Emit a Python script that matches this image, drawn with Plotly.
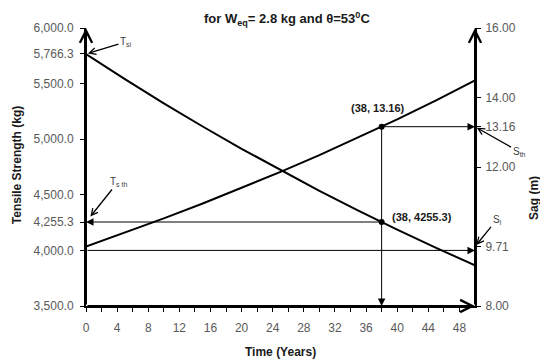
import plotly.graph_objects as go

# ---- data ----
years = [0, 5, 10, 15, 20, 25, 30, 35, 38, 40, 45, 50]
tensile_kg = [5766.3, 5540.2, 5323.0, 5114.2, 4913.7, 4721.1, 4536.0, 4358.1, 4255.3, 4187.2, 4023.0, 3865.3]
sag_m = [9.71, 10.11, 10.52, 10.95, 11.40, 11.86, 12.34, 12.85, 13.16, 13.37, 13.92, 14.49]

left_tickvals = [3500, 4000, 4255.3, 4500, 5000, 5500, 5766.3, 6000]
left_ticktext = ["3,500.0", "4,000.0", "4,255.3", "4,500.0", "5,000.0", "5,500.0", "5,766.3", "6,000.0"]
right_tickvals = [8, 9.71, 12, 13.16, 14, 16]
right_ticktext = ["8.00", "9.71", "12.00", "13.16", "14.00", "16.00"]

t_mark = 38
T_mark = 4255.3
S_mark = 13.16
T_base = 4000
S_init = 9.71
x_range = [0, 50]
y_range = [3500, 6000]
y2_range = [8, 16]

FONT = "Liberation Sans, Arial"
tick_font = dict(family=FONT, size=12, color="#595959")
bold_font = dict(family=FONT, size=12, color="#1a1a1a")

fig = go.Figure()
fig.add_trace(go.Scatter(x=years, y=tensile_kg, mode="lines",
                         line=dict(color="black", width=2), yaxis="y", showlegend=False))
fig.add_trace(go.Scatter(x=years, y=sag_m, mode="lines",
                         line=dict(color="black", width=2), yaxis="y2", showlegend=False))
fig.add_trace(go.Scatter(x=[t_mark], y=[T_mark], mode="markers",
                         marker=dict(color="black", size=6), yaxis="y", showlegend=False))
fig.add_trace(go.Scatter(x=[t_mark], y=[S_mark], mode="markers",
                         marker=dict(color="black", size=6), yaxis="y2", showlegend=False))

ann = []
def arrow(x, y, ax, ay, yref, width=1, head=2, size=1.5):
    ann.append(dict(x=x, y=y, ax=ax, ay=ay, xref="x", yref=yref, axref="x", ayref=yref,
                    text="", showarrow=True, arrowhead=head, arrowsize=size,
                    arrowwidth=width, arrowcolor="black", standoff=0, startstandoff=0))

# axis arrows
arrow(x_range[0], y_range[1], x_range[0], y_range[0], "y", width=2, head=5, size=1.2)
arrow(x_range[1], y2_range[1], x_range[1], y2_range[0], "y2", width=2, head=5, size=1.2)
arrow(x_range[1], y_range[0], x_range[0], y_range[0], "y", width=2, head=5, size=1.2)
# guide arrows
arrow(x_range[1], S_mark, t_mark, S_mark, "y2")
arrow(x_range[0], T_mark, t_mark, T_mark, "y")
arrow(x_range[1], T_base, x_range[0], T_base, "y")
arrow(t_mark, y2_range[0], t_mark, S_mark, "y2")

lab_font = dict(family=FONT, size=10, color="#404040")
def label(x, y, yref, text, ax, ay, standoff=2):
    ann.append(dict(x=x, y=y, xref="x", yref=yref, text=text, showarrow=True,
                    ax=ax, ay=ay, arrowhead=5, arrowsize=1, arrowwidth=1.3,
                    arrowcolor="black", standoff=standoff, font=lab_font))

label(x_range[0], tensile_kg[0], "y", "T<sub>si</sub>", 40, -12)
label(x_range[0], T_mark, "y", "T<sub>s th</sub>", 32, -40, standoff=7)
label(x_range[1], S_mark, "y2", "S<sub>th</sub>", 44, 25)
label(x_range[1], S_init, "y2", "S<sub>i</sub>", 22, -27)

pt_font = dict(family=FONT, size=11, color="#1a1a1a")
ann.append(dict(x=t_mark, y=S_mark, xref="x", yref="y2", text="<b>(38, 13.16)</b>",
                showarrow=False, xshift=-4, yshift=19, font=pt_font))
ann.append(dict(x=t_mark, y=T_mark, xref="x", yref="y", text="<b>(38, 4255.3)</b>",
                showarrow=False, xanchor="left", xshift=8, yshift=5, font=pt_font))

# titles
ann.append(dict(x=0.517, y=1.032, xref="paper", yref="paper", showarrow=False,
                xanchor="center", yanchor="middle",
                text="<b>for W<sub>eq</sub>= 2.8 kg and θ=53<sup>0</sup>C</b>",
                font=dict(family=FONT, size=13, color="#1a1a1a")))
ann.append(dict(x=-0.177, y=0.507, xref="paper", yref="paper", showarrow=False,
                xanchor="center", yanchor="middle",
                text="<b>Tensile Strength (kg)</b>", textangle=-90, font=bold_font))
ann.append(dict(x=1.150, y=0.39, xref="paper", yref="paper", showarrow=False,
                xanchor="center", yanchor="middle",
                text="<b>Sag (m)</b>", textangle=-90, font=bold_font))
ann.append(dict(x=0.499, y=-0.165, xref="paper", yref="paper", showarrow=False,
                xanchor="center", yanchor="middle",
                text="<b>Time (Years)</b>", font=bold_font))

axis_common = dict(showline=True, linewidth=2, linecolor="black", ticks="outside",
                   ticklen=4, tickwidth=1, tickcolor="black", showgrid=False,
                   zeroline=False, tickfont=tick_font, automargin=False)

# the page body adds an 8px offset, so the figure is 8px smaller on each axis
fig.update_layout(
    width=540, height=353,
    margin=dict(l=78, r=73, t=20, b=55),
    paper_bgcolor="white", plot_bgcolor="white",
    xaxis=dict(range=x_range, tickvals=list(range(0, 49, 4)),
               minor=dict(tickvals=list(range(2, 50, 4)), ticks="outside", ticklen=4,
                          tickcolor="black"),
               ticklabelstandoff=6, **axis_common),
    yaxis=dict(range=y_range, tickvals=left_tickvals, ticktext=left_ticktext,
               ticklabelstandoff=4, **axis_common),
    yaxis2=dict(range=y2_range, tickvals=right_tickvals, ticktext=right_ticktext,
                overlaying="y", side="right", anchor="x", ticklabelstandoff=2, **axis_common),
    annotations=ann,
    showlegend=False,
)

fig.write_html("out.html")
